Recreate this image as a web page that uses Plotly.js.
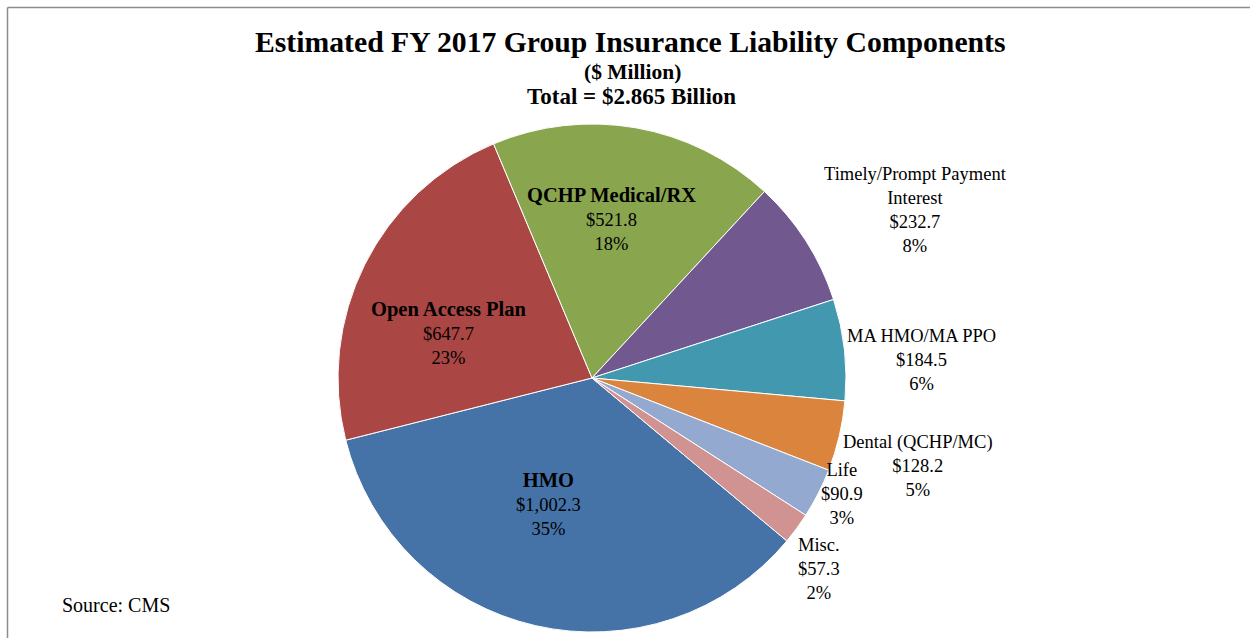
<!DOCTYPE html>
<html>
<head>
<meta charset="utf-8">
<script src="https://cdn.plot.ly/plotly-3.0.1.min.js"></script>
<style>html,body{margin:0;padding:0;background:#fff;}#chart{width:1250px;height:638px;}</style>
</head>
<body>
<div id="chart"></div>
<script>
const categories = ["HMO", "Open Access Plan", "QCHP Medical/RX", "Timely/Prompt Payment<br>Interest", "MA HMO/MA PPO", "Dental (QCHP/MC)", "Life", "Misc."];
const values = [1002.3, 647.7, 521.8, 232.7, 184.5, 128.2, 90.9, 57.3];
const valueLabels = ["$1,002.3", "$647.7", "$521.8", "$232.7", "$184.5", "$128.2", "$90.9", "$57.3"];
const pctLabels = ["35%", "23%", "18%", "8%", "6%", "5%", "3%", "2%"];
const boldName = [true, true, true, false, false, false, false, false];
const colors = ["#4572A7", "#AA4643", "#89A54E", "#71588F", "#4198AF", "#DB843D", "#93A9CF", "#D19392"];

const W = 1250, H = 638;
const labelPos = [[548, 504], [448, 333], [611, 219], [915, 210], [921, 360], [918, 466], [842, 494], [819, 569]];

const font = "Liberation Serif, Times New Roman, serif";
const annotations = categories.map((c, i) => ({
  text: (boldName[i] ? "<b><span style=\"font-size:20.5px\">" + c + "</span></b>" : c) + "<br>" + valueLabels[i] + "<br>" + pctLabels[i],
  x: labelPos[i][0] / W, y: 1 - labelPos[i][1] / H,
  xref: "paper", yref: "paper", xanchor: "center", yanchor: "middle",
  showarrow: false, align: "center",
  font: {family: font, size: 18.5, color: "#000"}
}));
annotations.push({
  text: "<b>Estimated FY 2017 Group Insurance Liability Components</b>",
  x: 630 / W, y: 1 - 42 / H, xref: "paper", yref: "paper", xanchor: "center", yanchor: "middle",
  showarrow: false, font: {family: font, size: 29.7, color: "#000"}
});
annotations.push({
  text: "<b>($ Million)</b>",
  x: 632 / W, y: 1 - 72 / H, xref: "paper", yref: "paper", xanchor: "center", yanchor: "middle",
  showarrow: false, font: {family: font, size: 21.5, color: "#000"}
});
annotations.push({
  text: "<b>Total = $2.865 Billion</b>",
  x: 631 / W, y: 1 - 97 / H, xref: "paper", yref: "paper", xanchor: "center", yanchor: "middle",
  showarrow: false, font: {family: font, size: 23, color: "#000"}
});
annotations.push({
  text: "Source: CMS",
  x: 60 / W, y: 1 - 605 / H, xref: "paper", yref: "paper", xanchor: "left", yanchor: "middle",
  showarrow: false, font: {family: font, size: 20, color: "#000"}
});

const cx = 592, cy = 378, r = 254;
const trace = {
  type: "pie",
  labels: categories,
  values: values,
  sort: false,
  direction: "clockwise",
  rotation: 129.9,
  marker: {colors: colors, line: {color: "#ffffff", width: 1}},
  textinfo: "none",
  hoverinfo: "label+value+percent",
  showlegend: false,
  domain: {x: [(cx - r) / W, (cx + r) / W], y: [1 - (cy + r) / H, 1 - (cy - r) / H]}
};

const layout = {
  width: W, height: H,
  margin: {l: 0, r: 0, t: 0, b: 0},
  paper_bgcolor: "#ffffff",
  showlegend: false,
  annotations: annotations,
  shapes: [
    {type: "line", xref: "paper", yref: "paper", x0: 7.5 / W, x1: 1, y0: 1 - 7.5 / H, y1: 1 - 7.5 / H, line: {color: "#8c8c8c", width: 1.5}},
    {type: "line", xref: "paper", yref: "paper", x0: 7.5 / W, x1: 7.5 / W, y0: 0, y1: 1 - 7.5 / H, line: {color: "#8c8c8c", width: 1.5}}
  ]
};

Plotly.newPlot("chart", [trace], layout, {staticPlot: true});
</script>
</body>
</html>
